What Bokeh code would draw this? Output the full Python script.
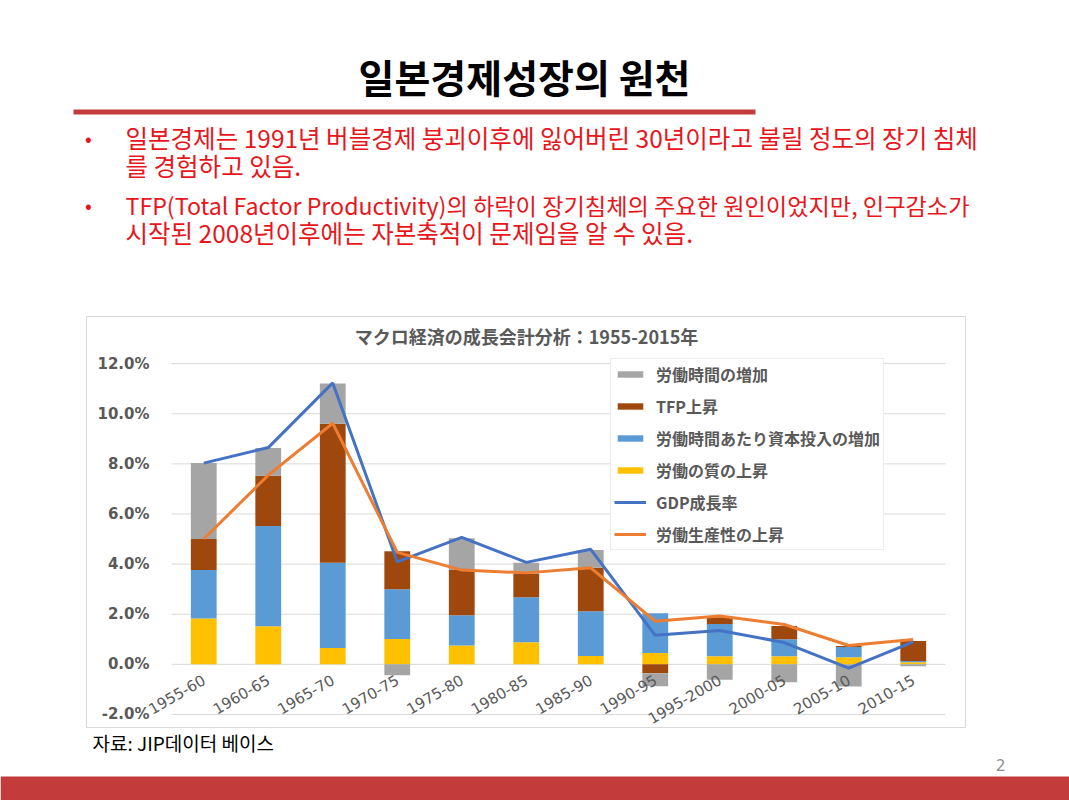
from bokeh.plotting import figure
from bokeh.layouts import column
from bokeh.models import (Label, BoxAnnotation, Legend, LegendItem, FixedTicker, LinearAxis,
                          PrintfTickFormatter, Range1d, ColumnDataSource)
from bokeh.embed import file_html
from bokeh.resources import INLINE

# ---------------- data (percent per year) ----------------
periods = ["1955-60", "1960-65", "1965-70", "1970-75", "1975-80", "1980-85",
           "1985-90", "1990-95", "1995-2000", "2000-05", "2005-10", "2010-15"]
labor_quality = [1.83, 1.52, 0.65, 1.01, 0.75, 0.88, 0.33, 0.45, 0.32, 0.32, 0.28, 0.08]
capital_per_hour = [1.93, 4.00, 3.40, 1.99, 1.21, 1.80, 1.79, 1.59, 1.29, 0.68, 0.41, 0.05]
tfp = [1.24, 2.01, 5.55, 1.51, 1.80, 0.94, 1.73, -0.36, 0.27, 0.53, 0.04, 0.80]
hours = [3.03, 1.10, 1.61, -0.44, 1.27, 0.43, 0.71, -0.51, -0.61, -0.71, -0.88, -0.08]
gdp_growth = [8.03, 8.65, 11.23, 4.09, 5.07, 4.07, 4.59, 1.16, 1.35, 0.87, -0.15, 0.90]
labor_productivity = [5.00, 7.55, 9.62, 4.47, 3.76, 3.65, 3.85, 1.72, 1.93, 1.59, 0.75, 0.99]
y_ticks = [-2, 0, 2, 4, 6, 8, 10, 12]

names = {
    "hours": "労働時間の増加",
    "tfp": "TFP上昇",
    "capital": "労働時間あたり資本投入の増加",
    "quality": "労働の質の上昇",
    "gdp": "GDP成長率",
    "lp": "労働生産性の上昇",
}

PAGE_W = 1069
BORDER = "#D9D9D9"
RED = "#E8151B"
BAND = "#C43B3B"
GREY_TXT = "#595959"


def deco_fig(w, h, x0, y0):
    """A plain canvas whose coordinates are page pixels (y downward)."""
    f = figure(width=w, height=h, x_range=Range1d(x0, x0 + w), y_range=Range1d(y0 + h, y0),
               x_axis_type=None, y_axis_type=None, min_border=0,
               min_border_left=0, min_border_right=0, min_border_top=0, min_border_bottom=0,
               toolbar_location=None, output_backend="svg", frame_align=False)
    f.outline_line_color = None
    f.background_fill_color = "white"
    f.border_fill_color = "white"
    return f


def box(f, l, r, t, b, color):
    f.add_layout(BoxAnnotation(left=l, right=r, top=t, bottom=b, fill_color=color,
                               fill_alpha=1, line_color=None))


def lab(f, text, x, y, size, color, font, style="normal", align="left"):
    f.add_layout(Label(x=x, y=y, text=text, text_font=font, text_font_size=size,
                       text_font_style=style, text_color=color, text_align=align,
                       text_baseline="middle"))


# ---------------- header (page y 0..315) ----------------
header = deco_fig(PAGE_W, 315, 0, 0)
lab(header, "일본경제성장의 원천", 524, 75, "39px", "black", "Noto Sans CJK KR", "bold", "center")
box(header, 73, 755, 109, 114, BAND)
lab(header, "•", 88, 137, "20px", RED, "Noto Sans CJK KR", align="center")
lab(header, "일본경제는 1991년 버블경제 붕괴이후에 잃어버린 30년이라고 불릴 정도의 장기 침체",
    125, 137, "24.5px", RED, "Noto Sans CJK KR")
lab(header, "를 경험하고 있음.", 125, 165, "24.5px", RED, "Noto Sans CJK KR")
lab(header, "•", 88, 204, "20px", RED, "Noto Sans CJK KR", align="center")
lab(header, "TFP(Total Factor Productivity)의 하락이 장기침체의 주요한 원인이었지만, 인구감소가",
    125, 204, "23.2px", RED, "Noto Sans CJK KR")
lab(header, "시작된 2008년이후에는 자본축적이 문제임을 알 수 있음.", 125, 232, "24.5px", RED,
    "Noto Sans CJK KR")

# ---------------- chart (canvas page y 315..728, frame = chart box 86..965 x 316..727) ----------------
PX_PER_CAT = 64.5
PX_PER_PCT = 25.0
n = len(periods)
x_idx = list(range(n))
x_range = Range1d(-0.5 - (171 - 86) / PX_PER_CAT, n - 0.5 + (965 - 945) / PX_PER_CAT)
y_range = Range1d(-2 - (727 - 714) / PX_PER_PCT, 12 + (363 - 316) / PX_PER_PCT)

p = figure(width=PAGE_W, height=413, output_backend="svg", toolbar_location=None,
           x_range=x_range, y_range=y_range, x_axis_type=None, y_axis_type=None,
           min_border_left=86, min_border_right=PAGE_W - 965,
           min_border_top=1, min_border_bottom=1, frame_align=False)
p.outline_line_color = BORDER
p.outline_line_width = 1
p.background_fill_color = "white"
p.border_fill_color = "white"

# horizontal grid lines over the plot area only
p.segment(x0=[-0.5] * len(y_ticks), x1=[n - 0.5] * len(y_ticks), y0=y_ticks, y1=y_ticks,
          line_color=BORDER, line_width=1)

series = [("quality", labor_quality, "#FFC000"),
          ("capital", capital_per_hour, "#5B9BD5"),
          ("tfp", tfp, "#9E480E"),
          ("hours", hours, "#A5A5A5")]
pos = [0.0] * n
neg = [0.0] * n
renderers = {}
for key, vals, col in series:
    bottoms, tops = [], []
    for i, v in enumerate(vals):
        if v >= 0:
            b = pos[i]
            pos[i] = b + v
        else:
            b = neg[i]
            neg[i] = b + v
        bottoms.append(b)
        tops.append(b + v)
    src = ColumnDataSource(dict(x=x_idx, bottom=bottoms, top=tops, period=periods))
    renderers[key] = p.vbar(x="x", bottom="bottom", top="top", width=0.4, source=src,
                            fill_color=col, line_color=None)

renderers["gdp"] = p.line(x_idx, gdp_growth, line_color="#4472C4", line_width=3)
renderers["lp"] = p.line(x_idx, labor_productivity, line_color="#ED7D31", line_width=3)

# value axis, crossing at the left edge of the plot area
yaxis = LinearAxis(fixed_location=-0.5, ticker=FixedTicker(ticks=y_ticks),
                   formatter=PrintfTickFormatter(format="%.1f%%"),
                   axis_line_color=None, major_tick_line_color=None, minor_tick_line_color=None,
                   major_label_standoff=16, major_label_text_font="DejaVu Sans",
                   major_label_text_font_style="bold", major_label_text_font_size="15px",
                   major_label_text_color=GREY_TXT)
p.add_layout(yaxis, "left")

# category axis, crossing at 0 %
xaxis = LinearAxis(fixed_location=0, ticker=FixedTicker(ticks=x_idx),
                   major_label_overrides={i: s for i, s in zip(x_idx, periods)},
                   major_label_orientation=0.5236,
                   axis_line_color=None, major_tick_line_color=None, minor_tick_line_color=None,
                   major_label_standoff=8, major_label_text_font="DejaVu Sans",
                   major_label_text_font_size="15px", major_label_text_color=GREY_TXT)
p.add_layout(xaxis, "below")

order = ["hours", "tfp", "capital", "quality", "gdp", "lp"]
legend = Legend(items=[LegendItem(label=names[k], renderers=[renderers[k]]) for k in order],
                location=(610 - 86, 727 - 550), orientation="vertical",
                glyph_width=32, glyph_height=8, label_height=22, spacing=8,
                padding=3, margin=0, label_standoff=10,
                label_text_font="Noto Sans CJK JP", label_text_font_style="bold",
                label_text_font_size="16px", label_text_color=GREY_TXT,
                border_line_color=BORDER, border_line_width=1,
                background_fill_color="white", background_fill_alpha=1.0)
p.add_layout(legend)

# chart title (screen units: from frame left / frame bottom)
p.add_layout(Label(x=526 - 86, y=727 - 335, x_units="screen", y_units="screen",
                   text="マクロ経済の成長会計分析：1955-2015年", text_font="Noto Sans CJK JP",
                   text_font_style="bold", text_font_size="18px", text_color=GREY_TXT,
                   text_align="center", text_baseline="middle"))

# ---------------- footer (page y 728..800) ----------------
footer = deco_fig(PAGE_W, 72, 0, 728)
lab(footer, "자료: JIP데이터 베이스", 92, 742, "19px", "black", "Noto Sans CJK KR")
lab(footer, "2", 1000, 764, "16px", "#8C8C8C", "Noto Sans", align="center")
box(footer, 0, PAGE_W, 776, 800, BAND)

page = column(header, p, footer, spacing=0)
open("out.html", "w").write(file_html(page, INLINE))
